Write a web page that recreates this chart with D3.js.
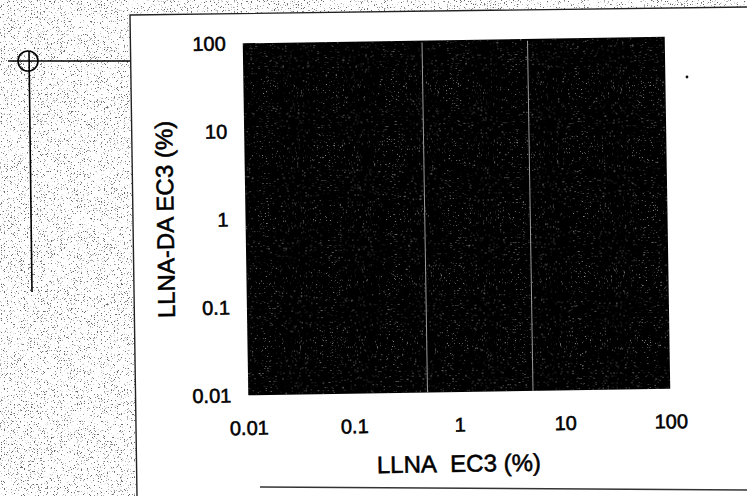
<!DOCTYPE html>
<html>
<head>
<meta charset="utf-8">
<script src="https://cdn.jsdelivr.net/npm/d3@7"></script>
<style>
  html, body { margin: 0; padding: 0; background: #fff; }
  svg { display: block; }
  text { font-family: "Liberation Sans", Arial, sans-serif; fill: #000; stroke: #000; stroke-width: 0.55px; }
</style>
</head>
<body>
<div id="chart"></div>
<script>
// Axis ranges and tick values (both axes are logarithmic, in %)
const xDomain = [0.01, 100];
const yDomain = [0.01, 100];
const xTicks = [0.01, 0.1, 1, 10, 100];
const yTicks = [0.01, 0.1, 1, 10, 100];
// Vertical guide lines on the LLNA EC3 axis
const guideValues = [0.5, 5];
const xTitle = "LLNA\u00a0\u00a0EC3 (%)";
const yTitle = "LLNA-DA EC3 (%)";

const W = 747, H = 496;
const plot = { left: 245.5, right: 667.5, top: 40, bottom: 392 };
const tilt = -0.9, pivot = [456, 216];

const svg = d3.select("#chart").append("svg")
  .attr("width", W).attr("height", H);

const defs = svg.append("defs");

// speckled grain used for the scanner bed and the filled plot area
function grain(id, colour, slope, offset, freq, seed) {
  const f = defs.append("filter").attr("id", id)
    .attr("x", 0).attr("y", 0).attr("width", "100%").attr("height", "100%")
    .attr("color-interpolation-filters", "sRGB");
  f.append("feTurbulence").attr("type", "fractalNoise")
    .attr("baseFrequency", freq).attr("numOctaves", 1).attr("seed", seed).attr("result", "n");
  const c = d3.color(colour);
  f.append("feColorMatrix").attr("in", "n").attr("type", "matrix")
    .attr("values", `0 0 0 0 ${c.r/255}  0 0 0 0 ${c.g/255}  0 0 0 0 ${c.b/255}  ${slope} 0 0 0 ${offset}`)
    .attr("result", "s");
  f.append("feComposite").attr("in", "s").attr("in2", "SourceGraphic").attr("operator", "in");
}
grain("bedGrain", "#666", 10, -6.1, 1.3, 4);
grain("plotGrain", "#8a8a8a", 10, -6.6, 1.4, 11);

// scanner bed around the page
const bed = [[0,0],[W,0],[W,7],[130,15],[137,H],[0,H]];
svg.append("polygon").attr("points", bed.join(" ")).attr("fill", "#fff");
svg.append("polygon").attr("points", bed.join(" ")).attr("fill", "#000")
  .attr("filter", "url(#bedGrain)");

// page edges
svg.append("polyline").attr("points", [[W,7],[130,15],[137,H]].join(" "))
  .attr("fill", "none").attr("stroke", "#222").attr("stroke-width", 1.4);
svg.append("line").attr("x1", 260).attr("y1", 487).attr("x2", W).attr("y2", 490)
  .attr("stroke", "#333").attr("stroke-width", 1.5);

// registration mark
const reg = svg.append("g").attr("stroke", "#000").attr("fill", "none").attr("stroke-width", 1.6);
reg.append("circle").attr("cx", 28).attr("cy", 61).attr("r", 10);
reg.append("line").attr("x1", 8).attr("y1", 61).attr("x2", 130).attr("y2", 61);
reg.append("line").attr("x1", 29).attr("y1", 51).attr("x2", 32).attr("y2", 292);

// chart
const g = svg.append("g")
  .attr("transform", `rotate(${tilt},${pivot[0]},${pivot[1]})`);

const x = d3.scaleLog().domain(xDomain).range([plot.left, plot.right]);
const y = d3.scaleLog().domain(yDomain).range([plot.bottom, plot.top]);

const area = {
  x: x(xDomain[0]), y: y(yDomain[1]),
  w: x(xDomain[1]) - x(xDomain[0]), h: y(yDomain[0]) - y(yDomain[1])
};
g.append("rect")
  .attr("x", area.x).attr("y", area.y).attr("width", area.w).attr("height", area.h)
  .attr("fill", "#000");
g.append("rect")
  .attr("x", area.x).attr("y", area.y).attr("width", area.w).attr("height", area.h)
  .attr("fill", "#000").attr("filter", "url(#plotGrain)");

g.selectAll("line.guide").data(guideValues).join("line")
  .attr("class", "guide")
  .attr("x1", d => x(d)).attr("x2", d => x(d))
  .attr("y1", area.y + 2).attr("y2", area.y + area.h)
  .attr("stroke", "#9a9a9a").attr("stroke-width", 1);

const fmt = d3.format("~g");

const xAxis = g.append("g")
  .attr("transform", `translate(0,${plot.bottom})`)
  .call(d3.axisBottom(x).tickValues(xTicks).tickFormat(fmt).tickSize(0).tickPadding(25.5));
const yAxis = g.append("g")
  .attr("transform", `translate(${plot.left},0)`)
  .call(d3.axisLeft(y).tickValues(yTicks).tickFormat(fmt).tickSize(0).tickPadding(17));
[xAxis, yAxis].forEach(a => {
  a.select(".domain").remove();
  a.selectAll("text").attr("font-size", 20)
    .attr("font-family", "'Liberation Sans', Arial, sans-serif")
    .attr("fill", "#000");
});

g.append("text")
  .attr("x", 455).attr("y", 472)
  .attr("text-anchor", "middle").attr("font-size", 24)
  .text(xTitle);
g.append("text")
  .attr("transform", "translate(173.5,215) rotate(-90)")
  .attr("text-anchor", "middle").attr("font-size", 24)
  .text(yTitle);

// small ink speck on the page
svg.append("circle").attr("cx", 687).attr("cy", 77).attr("r", 1.4).attr("fill", "#111");
</script>
</body>
</html>
